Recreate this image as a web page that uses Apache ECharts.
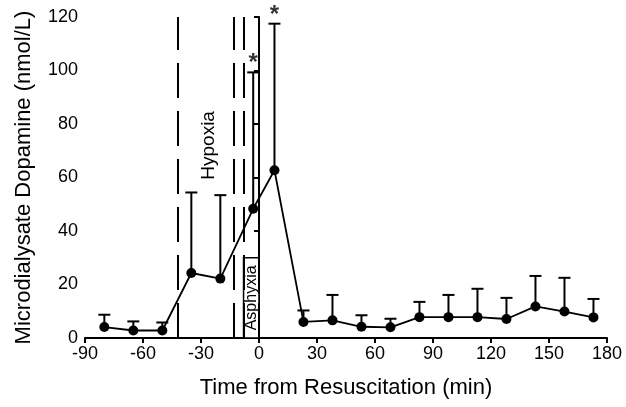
<!DOCTYPE html>
<html>
<head>
<meta charset="utf-8">
<script src="https://cdn.jsdelivr.net/npm/echarts@6/dist/echarts.min.js"></script>
<style>
  html, body { margin: 0; padding: 0; background: #fff; }
  #chart { width: 626px; height: 407px; }
</style>
</head>
<body>
<div id="chart"></div>
<script>
// sampling times (min from resuscitation)
const times = [-80, -65, -50, -35, -20, -3, 8, 23, 38, 53, 68, 83, 98, 113, 128, 143, 158, 173]
// mean dopamine (nmol/L)
const dopamine = [4.1, 2.8, 2.8, 24.3, 22.2, 48.3, 62.7, 6.0, 6.6, 4.2, 4.0, 7.8, 7.8, 7.8, 7.1, 11.8, 9.9, 7.7]
// top of the error bar (mean + SD)
const errorTop = [8.7, 6.2, 5.8, 54.4, 53.4, 99.3, 117.5, 10.3, 16.1, 8.5, 7.2, 13.5, 16.1, 18.4, 15.0, 23.2, 22.5, 14.6]
// points marked significant
const starTimes = [-3, 8]
// phase boundaries
const phaseLines = [-42, -13, -8, 0]
const asphyxiaRange = [-8, 0]
const hypoxiaLabelPos = [-26, 72]

const font = 'Liberation Sans, Arial, sans-serif'
const chart = echarts.init(document.getElementById('chart'))

const lineData = times.map((t, i) => [t, dopamine[i]])
const errData = times.map((t, i) => [t, dopamine[i], errorTop[i]])
const starData = starTimes.map((t) => [t, errorTop[times.indexOf(t)]])

const option = {
  animation: false,
  grid: { left: 85, right: 19, top: 17, bottom: 69 },
  xAxis: {
    type: 'value',
    min: -90,
    max: 180,
    interval: 30,
    name: 'Time from Resuscitation (min)',
    nameLocation: 'middle',
    nameGap: 39,
    nameTextStyle: { color: '#000', fontSize: 22, fontFamily: font },
    axisLine: { lineStyle: { color: '#000', width: 2 } },
    axisTick: { show: true, length: 5, lineStyle: { color: '#000', width: 2 } },
    axisLabel: { color: '#000', fontSize: 18, fontFamily: font, margin: 7 },
    splitLine: { show: false }
  },
  yAxis: {
    type: 'value',
    min: 0,
    max: 120,
    interval: 20,
    name: 'Microdialysate Dopamine (nmol/L)',
    nameLocation: 'middle',
    nameGap: 50,
    nameTextStyle: { color: '#000', fontSize: 22, fontFamily: font },
    axisLine: { show: true, lineStyle: { color: '#000', width: 2 } },
    axisTick: { show: true, length: 5, lineStyle: { color: '#000', width: 2 } },
    axisLabel: { color: '#000', fontSize: 18, fontFamily: font, margin: 7 },
    splitLine: { show: false }
  },
  series: [
    {
      type: 'custom',
      name: 'sd',
      data: errData,
      z: 3,
      renderItem(params, api) {
        const p0 = api.coord([api.value(0), api.value(1)])
        const p1 = api.coord([api.value(0), api.value(2)])
        const half = 6
        return {
          type: 'group',
          children: [
            { type: 'line', shape: { x1: p0[0], y1: p0[1], x2: p1[0], y2: p1[1] }, style: { stroke: '#000', lineWidth: 2 } },
            { type: 'line', shape: { x1: p1[0] - half, y1: p1[1], x2: p1[0] + half, y2: p1[1] }, style: { stroke: '#000', lineWidth: 2 } }
          ]
        }
      }
    },
    {
      type: 'line',
      name: 'dopamine',
      data: lineData,
      z: 4,
      symbol: 'circle',
      symbolSize: 10,
      itemStyle: { color: '#000' },
      lineStyle: { color: '#000', width: 1.8 },
      markLine: {
        silent: true,
        symbol: 'none',
        label: { show: false },
        lineStyle: { color: '#000', width: 2, type: [35, 13] },
        data: phaseLines.map((x) => ({ xAxis: x }))
      },
      markArea: {
        silent: true,
        itemStyle: { color: '#fff', borderColor: '#000', borderWidth: 1.5 },
        label: {
          show: true,
          position: 'inside',
          rotate: 90,
          color: '#000',
          fontSize: 16,
          fontFamily: font
        },
        data: [[
          { name: 'Asphyxia', xAxis: asphyxiaRange[0], yAxis: 0 },
          { xAxis: asphyxiaRange[1], yAxis: 30 }
        ]]
      },
      markPoint: {
        silent: true,
        symbol: 'circle',
        symbolSize: 1,
        itemStyle: { color: 'rgba(0,0,0,0)' },
        label: {
          show: true,
          position: 'inside',
          rotate: 90,
          color: '#000',
          fontSize: 19,
          fontFamily: font,
          formatter: 'Hypoxia'
        },
        data: [{ coord: hypoxiaLabelPos }]
      }
    },
    {
      type: 'scatter',
      name: 'sig',
      data: starData,
      symbolSize: 1,
      itemStyle: { color: 'rgba(0,0,0,0)' },
      z: 5,
      label: {
        show: true,
        position: 'top',
        distance: -4,
        formatter: '*',
        color: '#000',
        fontSize: 24,
        fontWeight: 'bold',
        fontFamily: font
      }
    }
  ]
}
chart.setOption(option)
</script>
</body>
</html>
